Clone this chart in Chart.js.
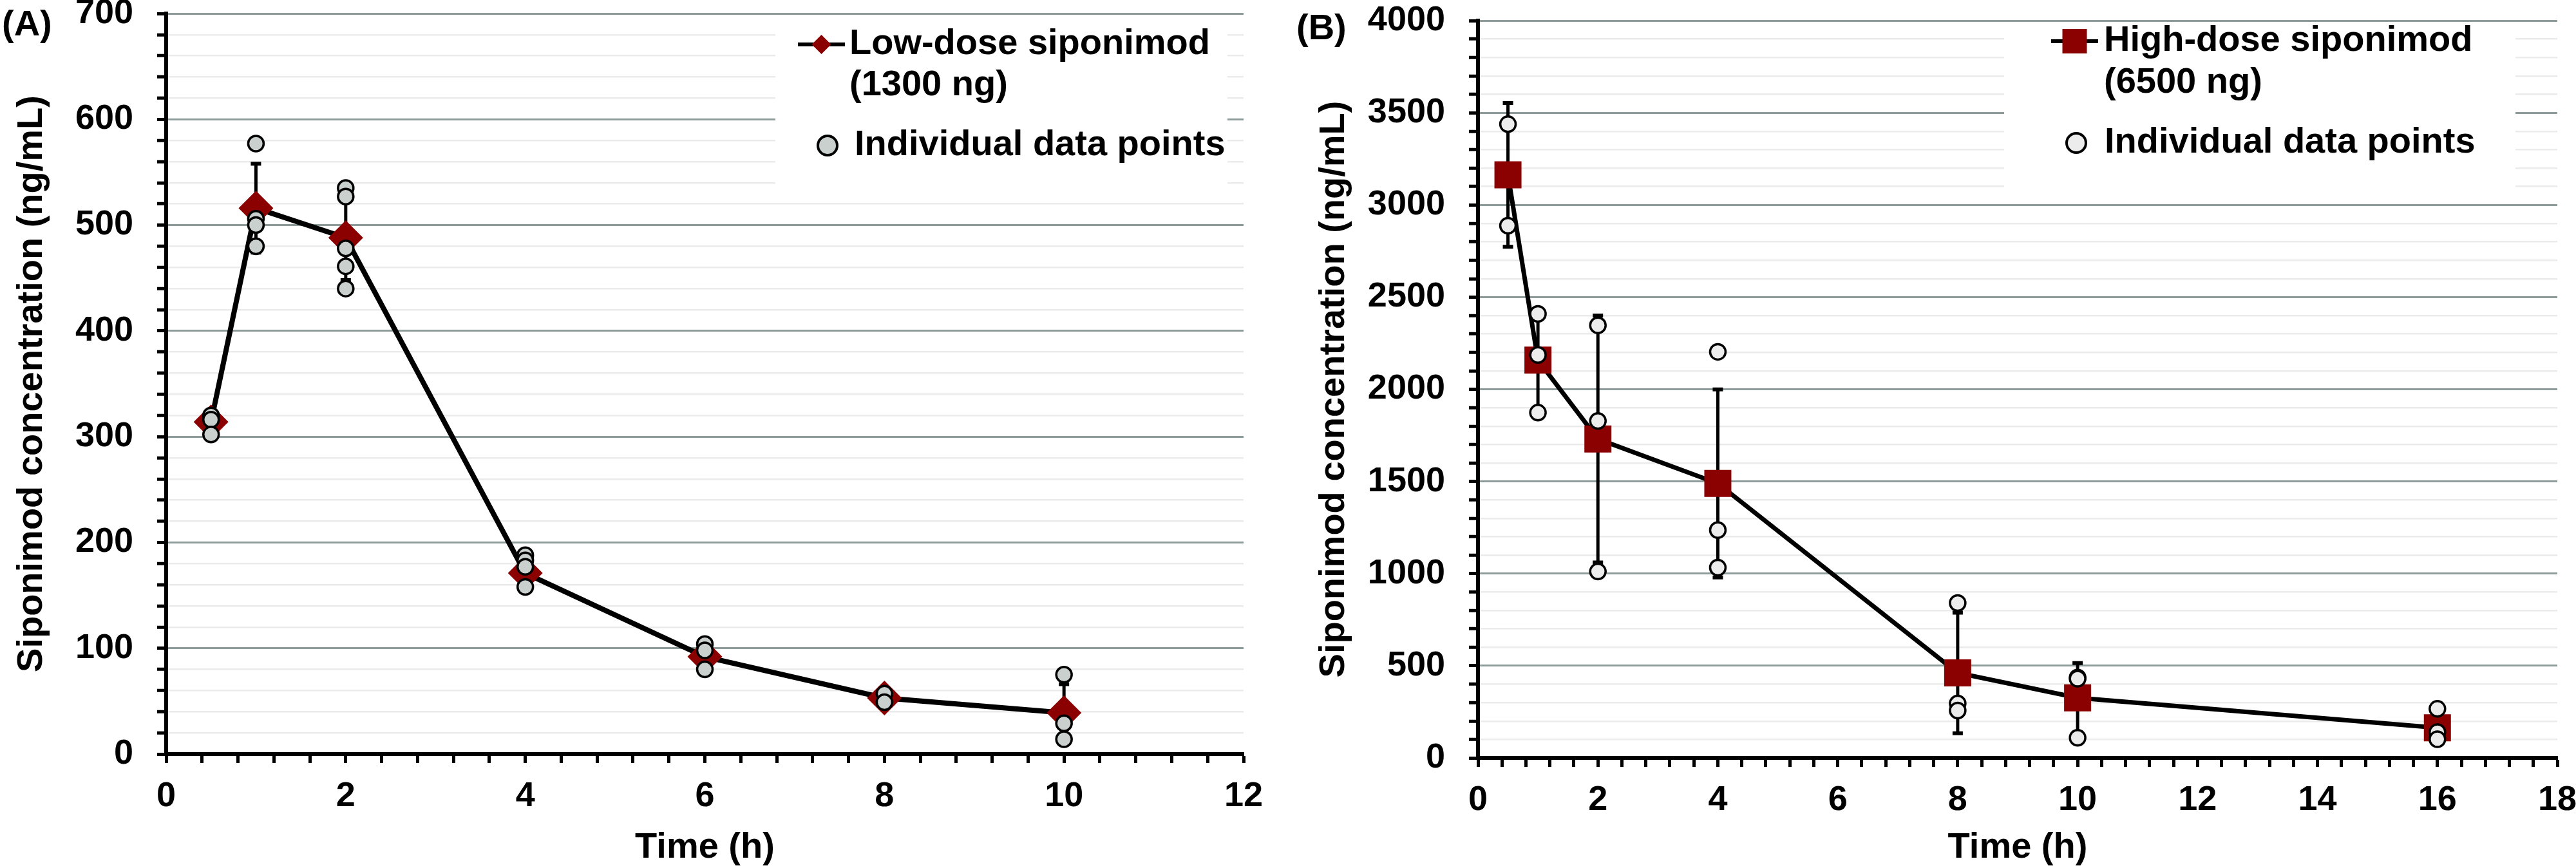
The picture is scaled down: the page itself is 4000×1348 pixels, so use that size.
<!DOCTYPE html>
<html>
<head>
<meta charset="utf-8">
<script src="https://cdn.jsdelivr.net/npm/chart.js@4.4.1/dist/chart.umd.min.js"></script>
<style>
  html, body { margin: 0; padding: 0; background: #fff; }
  #wrap { position: relative; width: 4000px; height: 1348px; }
  canvas { position: absolute; top: 0; }
  #chartA { left: 0; }
  #chartB { left: 2000px; }
</style>
</head>
<body>
<div id="wrap">
  <canvas id="chartA" width="2000" height="1348"></canvas>
  <canvas id="chartB" width="2000" height="1348"></canvas>
</div>
<script>
// (A) low dose, 1300 ng
const timesA = [0.5, 1, 2, 4, 6, 8, 10];
const meanA = [314, 516, 488, 171, 92, 53, 39];
const sdA = [8, 42, 40, 12, 11, 5, 27];
const pointsA = [[320, 316, 302], [577, 506, 500, 480], [535, 527, 478, 461, 440],
                 [188, 183, 177, 158], [104, 98, 80], [57, 49], [75, 29, 14]];
const xLabelsA = [0, 2, 4, 6, 8, 10, 12];
const yLabelsA = [0, 100, 200, 300, 400, 500, 600, 700];

// (B) high dose, 6500 ng
const timesB = [0.5, 1, 2, 4, 8, 10, 16];
const meanB = [3163, 2158, 1730, 1489, 461, 326, 163];
const sdB = [390, 268, 670, 510, 327, 188, 60];
const pointsB = [[3438, 2887], [2409, 2186, 1873], [2347, 1828, 1011],
                 [2203, 1236, 1032], [840, 295, 257], [436, 430, 109], [266, 140, 101]];
const xLabelsB = [0, 2, 4, 6, 8, 10, 12, 14, 16, 18];
const yLabelsB = [0, 500, 1000, 1500, 2000, 2500, 3000, 3500, 4000];

const FAMILY = '"Liberation Sans", Arial, sans-serif';
const RED = '#8b0000';
const MAJOR_GRID = '#8d9c9a';
const MINOR_GRID = '#ebebeb';

Chart.defaults.font.family = FAMILY;
Chart.defaults.color = '#000';

function errorBars(times, mean, sd) {
  return {
    id: 'errorBars',
    beforeDatasetsDraw(chart) {
      const { ctx, scales: { x, y } } = chart;
      ctx.save();
      ctx.strokeStyle = '#000';
      times.forEach((t, i) => {
        const px = x.getPixelForValue(t);
        const top = y.getPixelForValue(mean[i] + sd[i]);
        const bot = y.getPixelForValue(mean[i] - sd[i]);
        ctx.lineWidth = 5;
        ctx.beginPath();
        ctx.moveTo(px, top);
        ctx.lineTo(px, bot);
        ctx.stroke();
        ctx.lineWidth = 6;
        ctx.beginPath();
        ctx.moveTo(px - 8, top); ctx.lineTo(px + 8, top);
        ctx.moveTo(px - 8, bot); ctx.lineTo(px + 8, bot);
        ctx.stroke();
      });
      ctx.restore();
    }
  };
}

function insideLegend(L) {
  return {
    id: 'insideLegend',
    beforeDatasetsDraw(chart) {
      const ctx = chart.ctx;
      ctx.save();
      ctx.fillStyle = '#fff';
      ctx.fillRect(L.box[0], L.box[1], L.box[2], L.box[3]);
      // mean series sample
      ctx.strokeStyle = '#000';
      ctx.lineWidth = 6;
      ctx.beginPath();
      ctx.moveTo(L.lineX[0], L.rowY[0]);
      ctx.lineTo(L.lineX[1], L.rowY[0]);
      ctx.stroke();
      ctx.fillStyle = RED;
      const mx = (L.lineX[0] + L.lineX[1]) / 2, my = L.rowY[0];
      ctx.beginPath();
      if (L.marker === 'diamond') {
        ctx.moveTo(mx, my - 15); ctx.lineTo(mx + 15, my);
        ctx.lineTo(mx, my + 15); ctx.lineTo(mx - 15, my);
        ctx.closePath();
      } else {
        ctx.rect(mx - 19, my - 19, 38, 38);
      }
      ctx.fill();
      // individual points sample
      ctx.fillStyle = L.circleFill;
      ctx.lineWidth = 4;
      ctx.beginPath();
      ctx.arc(L.circleX, L.rowY[2], 15, 0, Math.PI * 2);
      ctx.fill();
      ctx.stroke();
      // texts
      ctx.fillStyle = '#000';
      ctx.font = 'bold 56px ' + FAMILY;
      ctx.textBaseline = 'middle';
      ctx.textAlign = 'left';
      ctx.fillText(L.texts[0], L.textX, L.rowY[0]);
      ctx.fillText(L.texts[1], L.textX, L.rowY[1]);
      ctx.fillText('Individual data points', L.textX2, L.rowY[2]);
      ctx.restore();
    }
  };
}

function panelLabel(text, x, y) {
  return {
    id: 'panelLabel',
    afterDraw(chart) {
      const ctx = chart.ctx;
      ctx.save();
      ctx.fillStyle = '#000';
      ctx.font = 'bold 56px ' + FAMILY;
      ctx.textBaseline = 'middle';
      ctx.textAlign = 'left';
      ctx.fillText(text, x, y);
      ctx.restore();
    }
  };
}

function buildChart(id, p) {
  const tickFont = { family: FAMILY, size: 54, weight: 'bold' };
  const titleFont = { family: FAMILY, size: 56, weight: 'bold', lineHeight: 1.1 };
  return new Chart(document.getElementById(id), {
    type: 'scatter',
    data: {
      datasets: [
        {
          label: p.meanLabel,
          data: p.times.map((t, i) => ({ x: t, y: p.mean[i] })),
          showLine: true,
          borderColor: '#000',
          borderWidth: p.lineWidth,
          tension: 0,
          pointStyle: p.marker,
          pointRadius: p.markerRadius,
          pointBackgroundColor: RED,
          pointBorderWidth: 0,
          order: 1
        },
        {
          label: 'Individual data points',
          data: p.points.flatMap((vals, i) => vals.map(v => ({ x: p.times[i], y: v }))),
          pointStyle: 'circle',
          pointRadius: 12,
          pointBorderWidth: 3.5,
          pointBorderColor: '#000',
          pointBackgroundColor: p.circleFill,
          order: 0
        }
      ]
    },
    options: {
      responsive: false,
      animation: false,
      devicePixelRatio: 1,
      events: [],
      layout: { autoPadding: false, padding: { top: p.padTop, right: p.padRight, left: 0, bottom: 0 } },
      plugins: { legend: { display: false }, tooltip: { enabled: false } },
      scales: {
        x: {
          type: 'linear',
          min: 0,
          max: p.xMax,
          ticks: {
            stepSize: 0.4,
            autoSkip: false,
            maxRotation: 0,
            minRotation: 0,
            color: '#000',
            font: tickFont,
            padding: 20,
            callback: v => (p.xLabels.includes(v) ? String(v) : '')
          },
          grid: { drawOnChartArea: false, drawTicks: true, tickLength: 14, tickWidth: 5, tickColor: '#000' },
          border: { display: true, color: '#000', width: 6 },
          title: { display: true, text: 'Time (h)', color: '#000', font: titleFont, padding: { top: 0, bottom: 1 } },
          afterFit: s => { s.height = p.xHeight; s.paddingLeft = 0; s.paddingRight = 0; }
        },
        y: {
          type: 'linear',
          min: 0,
          max: p.yMax,
          ticks: {
            stepSize: p.yStep,
            autoSkip: false,
            color: '#000',
            font: tickFont,
            padding: 37,
            callback: v => (p.yLabels.includes(v) ? String(v) : '')
          },
          grid: {
            color: c => (c.tick && c.tick.value === 0 ? 'rgba(0,0,0,0)'
              : (c.tick && p.yLabels.includes(c.tick.value) ? MAJOR_GRID : MINOR_GRID)),
            lineWidth: c => (c.tick && p.yLabels.includes(c.tick.value) ? 3 : 2.5),
            drawTicks: true,
            tickLength: 14,
            tickWidth: 5,
            tickColor: '#000'
          },
          border: { display: true, color: '#000', width: 6 },
          title: {
            display: true,
            text: 'Siponimod concentration (ng/mL)',
            color: '#000',
            font: titleFont,
            padding: { top: p.yTitlePad, bottom: 0 }
          },
          afterFit: s => { s.width = p.yWidth; s.paddingTop = 0; s.paddingBottom = 0; }
        }
      }
    },
    plugins: [p.legend, errorBars(p.times, p.mean, p.sd), panelLabel(p.panel, p.panelX, p.panelY)]
  });
}

buildChart('chartA', {
  times: timesA, mean: meanA, sd: sdA, points: pointsA,
  xLabels: xLabelsA, yLabels: yLabelsA, xMax: 12, yMax: 700, yStep: 20,
  meanLabel: 'Low-dose siponimod (1300 ng)',
  marker: 'rectRot', markerRadius: 27, lineWidth: 8, circleFill: '#c9d0ce',
  padTop: 21, padRight: 69, yWidth: 258, xHeight: 177, yTitlePad: 19,
  panel: '(A)', panelX: 3, panelY: 40,
  legend: insideLegend({
    box: [1204, 30, 702, 270], lineX: [1239, 1312], rowY: [69, 133, 226],
    marker: 'diamond', circleX: 1285, circleFill: '#c9d0ce',
    textX: 1319, textX2: 1327, texts: ['Low-dose siponimod', '(1300 ng)']
  })
});

buildChart('chartB', {
  times: timesB, mean: meanB, sd: sdB, points: pointsB,
  xLabels: xLabelsB, yLabels: yLabelsB, xMax: 18, yMax: 4000, yStep: 100,
  meanLabel: 'High-dose siponimod (6500 ng)',
  marker: 'rect', markerRadius: 29.7, lineWidth: 7, circleFill: '#ececec',
  padTop: 32, padRight: 29, yWidth: 295, xHeight: 171, yTitlePad: 41,
  panel: '(B)', panelX: 13, panelY: 46,
  legend: insideLegend({
    box: [1112, 40, 794, 260], lineX: [1185, 1258], rowY: [64, 129, 222],
    marker: 'square', circleX: 1224, circleFill: '#ececec',
    textX: 1267, textX2: 1268, texts: ['High-dose siponimod', '(6500 ng)']
  })
});
</script>
</body>
</html>
